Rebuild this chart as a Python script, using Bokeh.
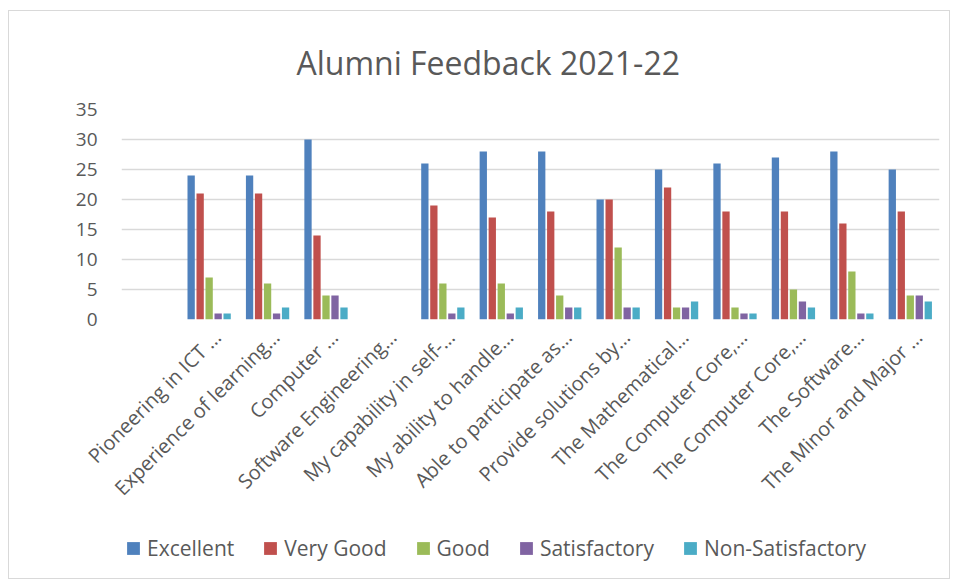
import math
from bokeh.plotting import figure
from bokeh.layouts import column
from bokeh.models import (ColumnDataSource, Range1d, FixedTicker, Legend, LegendItem)
from bokeh.transform import dodge
from bokeh.embed import file_html
from bokeh.resources import INLINE

categories = [
    "Pioneering in ICT …",
    "Experience of learning…",
    "Computer …",
    "Software Engineering…",
    "My capability in self-…",
    "My ability to handle…",
    "Able to participate as…",
    "Provide solutions by…",
    "The Mathematical…",
    "The Computer Core,…",
    "The Computer Core,…",
    "The Software…",
    "The Minor and Major …",
]
excellent = [24, 24, 30, 0, 26, 28, 28, 20, 25, 26, 27, 28, 25]
very_good = [21, 21, 14, 0, 19, 17, 18, 20, 22, 18, 18, 16, 18]
good = [7, 6, 4, 0, 6, 6, 4, 12, 2, 2, 5, 8, 4]
satisfactory = [1, 1, 4, 0, 1, 1, 2, 2, 2, 1, 3, 1, 4]
non_satisfactory = [1, 2, 2, 0, 2, 2, 2, 2, 3, 1, 2, 1, 3]
y_ticks = [0, 5, 10, 15, 20, 25, 30, 35]

series_names = ["Excellent", "Very Good", "Good", "Satisfactory", "Non-Satisfactory"]
series_values = [excellent, very_good, good, satisfactory, non_satisfactory]
colors = ["#4F81BD", "#C0504D", "#9BBB59", "#8064A2", "#4BACC6"]

FONT = "Open Sans"
TXT = "#595959"

positions = list(range(1, len(categories) + 1))
data = {"x": positions}
for name, vals in zip(series_names, series_values):
    data[name] = vals
source = ColumnDataSource(data)

# ---- main chart ----
p = figure(width=940, height=508, output_backend="svg", toolbar_location=None,
           x_range=Range1d(-0.5, len(categories) + 0.5), y_range=Range1d(0, 35),
           min_border_left=112, min_border_right=10, min_border_top=98,
           min_border_bottom=200, title="Alumni Feedback 2021-22")
p.outline_line_color = None
p.background_fill_color = "white"
p.border_fill_color = "white"

p.title.align = "left"
p.title.offset = 175
p.title.text_font = FONT
p.title.text_font_size = "32px"
p.title.text_font_style = "normal"
p.title.text_color = TXT
p.title.standoff = 52

step = 0.154
width = 0.125
for i, (name, col) in enumerate(zip(series_names, colors)):
    p.vbar(x=dodge("x", (i - 2) * step, range=p.x_range), top=name, width=width,
           source=source, fill_color=col, line_color=None)

p.xgrid.visible = False
p.ygrid.grid_line_color = "#d9d9d9"
p.ygrid.grid_line_width = 1.5
p.ygrid.ticker = FixedTicker(ticks=y_ticks)

yax = p.yaxis[0]
yax.ticker = FixedTicker(ticks=y_ticks)
yax.axis_line_color = None
yax.major_tick_line_color = None
yax.minor_tick_line_color = None
yax.major_tick_out = 0
yax.major_tick_in = 0
yax.major_label_standoff = 24
yax.major_label_text_font = FONT
yax.major_label_text_font_size = "19px"
yax.major_label_text_color = TXT

# category labels: anchored slightly right of each group's centre, as in the source
label_shift = 0.14
label_ticks = [pos + label_shift for pos in positions]
xax = p.xaxis[0]
xax.ticker = FixedTicker(ticks=label_ticks)
xax.major_label_overrides = {t: lab for t, lab in zip(label_ticks, categories)}
xax.major_label_orientation = math.pi / 4
xax.axis_line_color = None
xax.major_tick_line_color = None
xax.minor_tick_line_color = None
xax.major_tick_out = 0
xax.major_tick_in = 0
xax.major_label_standoff = 14
xax.major_label_text_font = FONT
xax.major_label_text_font_size = "20px"
xax.major_label_text_color = TXT

# ---- legend strip ----
pl = figure(width=940, height=59, output_backend="svg", toolbar_location=None,
            x_range=Range1d(0, 1), y_range=Range1d(0, 1), min_border=0)
pl.axis.visible = False
pl.grid.visible = False
pl.outline_line_color = None
pl.border_fill_color = "white"
items = []
for name, col in zip(series_names, colors):
    # single off-screen point, only so the legend swatch is drawn
    r = pl.vbar(x=[-5], top=[0], width=0.1, fill_color=col, line_color=None)
    items.append(LegendItem(label=name, renderers=[r]))

legend = Legend(items=items, orientation="horizontal", location=(4, 16),
                glyph_width=16, glyph_height=16, label_standoff=6, spacing=28,
                padding=0, margin=0, border_line_color=None, background_fill_alpha=0,
                label_text_font=FONT, label_text_font_size="21px",
                label_text_color=TXT)
pl.add_layout(legend, "center")

layout = column(p, pl, spacing=0)
layout.styles = {"border": "1px solid #d9d9d9", "margin-left": "8px", "margin-top": "10px"}

open("out.html", "w").write(file_html(layout, INLINE))
